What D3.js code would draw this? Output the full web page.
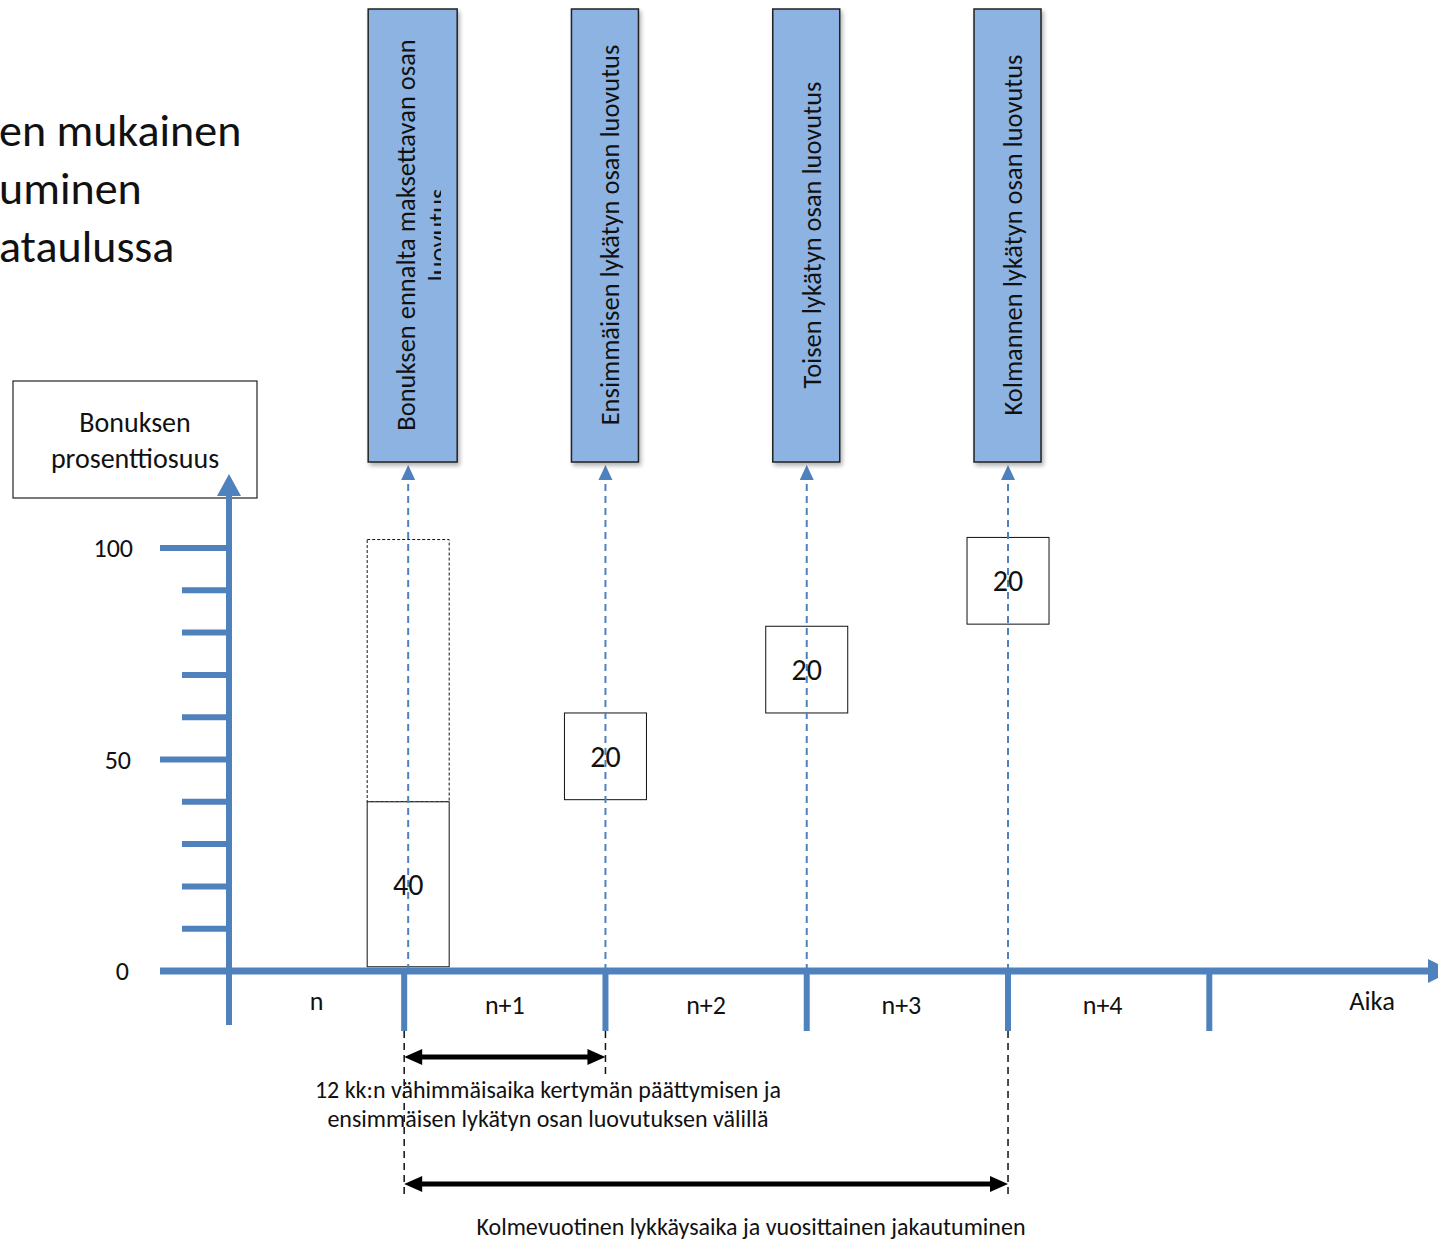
<!DOCTYPE html>
<html>
<head>
<meta charset="utf-8">
<script src="https://cdn.jsdelivr.net/npm/d3@7"></script>
<style>
    body { margin: 0; background: #fff; }
    svg { display: block; font-family: Carlito, Calibri, Lato, sans-serif; }
</style>
</head>
<body>
<div id="chart"></div>
<script>
// Data
const titleLines = ["en mukainen", "uminen", "ataulussa"];
const yAxisTitle = ["Bonuksen", "prosenttiosuus"];
const yTicks = [10, 20, 30, 40, 50, 60, 70, 80, 90, 100];
const yLabelTicks = [0, 50, 100];
const majorTicks = [50, 100];
const periodLabels = ["n", "n+1", "n+2", "n+3", "n+4"];
const periodEnds = [1, 2, 3, 4, 5];
const releaseYears = [1, 2, 3, 4];
const releaseLabels = [
    ["Bonuksen ennalta maksettavan osan", "luovutus"],
    ["Ensimmäisen lykätyn osan luovutus"],
    ["Toisen lykätyn osan luovutus"],
    ["Kolmannen lykätyn osan luovutus"]
];
const shareLabels = ["40", "20", "20", "20"];
const shareFrom = [1, 40.5, 61, 82];
const shareTo = [40, 61, 81.5, 102.5];
const fullBonus = [40, 102];          // dashed outline above the first share
const minGap = [1, 2];                // 12 months
const deferral = [1, 4];              // three years
const minGapText = ["12 kk:n vähimmäisaika kertymän päättymisen ja", "ensimmäisen lykätyn osan luovutuksen välillä"];
const deferralText = "Kolmevuotinen lykkäysaika ja vuosittainen jakautuminen";
const timeLabel = "Aika";

const W = 1438, H = 1240;
const blue = "#4f81bd";
const boxBlue = "#8db3e2";
const axisX = 229;

const svg = d3.select("#chart").append("svg")
    .attr("width", W)
    .attr("height", H);

const defs = svg.append("defs");
const shadow = defs.append("filter").attr("id", "shadow")
    .attr("x", "-20%").attr("y", "-5%").attr("width", "150%").attr("height", "110%");
shadow.append("feDropShadow")
    .attr("dx", 2).attr("dy", 3).attr("stdDeviation", 2)
    .attr("flood-color", "#000").attr("flood-opacity", 0.3);

// Scales
const x = d3.scaleLinear().domain([0, 5]).range([202.9, 1209.3]);
const y = d3.scaleLinear().domain([0, 100]).range([971, 548]);

// Title (cut off on the left like the original slide)
svg.append("g").selectAll("text")
    .data(titleLines)
    .join("text")
    .attr("x", -1)
    .attr("y", (d, i) => 146 + i * 58)
    .style("font-size", "46px")
    .attr("fill", "#111")
    .text(d => d);

// Y axis title box
svg.append("rect")
    .attr("x", 13).attr("y", 381)
    .attr("width", 244).attr("height", 117)
    .attr("fill", "#fff").attr("stroke", "#222").attr("stroke-width", 1.2);

svg.append("g").selectAll("text")
    .data(yAxisTitle)
    .join("text")
    .attr("x", 135)
    .attr("y", (d, i) => 432 + i * 36)
    .attr("text-anchor", "middle")
    .style("font-size", "28px")
    .attr("fill", "#111")
    .text(d => d);

// Dashed outline for the full bonus
svg.append("rect")
    .attr("x", x(releaseYears[0]) - 37)
    .attr("y", y(fullBonus[1]))
    .attr("width", 82)
    .attr("height", y(fullBonus[0]) - y(fullBonus[1]))
    .attr("fill", "none")
    .attr("stroke", "#111")
    .attr("stroke-width", 1)
    .attr("stroke-dasharray", "3,2");

// Share boxes
releaseYears.forEach((yr, i) => {
    svg.append("rect")
        .attr("x", x(yr) - 41 + (i === 0 ? 4 : 0))
        .attr("y", y(shareTo[i]))
        .attr("width", 82)
        .attr("height", y(shareFrom[i]) - y(shareTo[i]))
        .attr("fill", "#fff")
        .attr("stroke", "#111")
        .attr("stroke-width", 1);
});

// Blue dashed lines up to the release boxes
releaseYears.forEach(yr => {
    const cx = x(yr) + (yr === 1 ? 4 : 0);
    svg.append("line")
        .attr("x1", cx).attr("x2", cx)
        .attr("y1", y(0)).attr("y2", 480)
        .attr("stroke", blue)
        .attr("stroke-width", 2)
        .attr("stroke-dasharray", "7,5");
    svg.append("path")
        .attr("d", `M${cx},465 L${cx - 7},480 L${cx + 7},480 Z`)
        .attr("fill", blue);
});

// Share labels (drawn over the dashed lines)
releaseYears.forEach((yr, i) => {
    svg.append("text")
        .attr("x", x(yr) + (i === 0 ? 4 : 0))
        .attr("y", (y(shareFrom[i]) + y(shareTo[i])) / 2)
        .attr("dy", "0.35em")
        .attr("text-anchor", "middle")
        .style("font-size", "30px")
        .attr("fill", "#111")
        .text(shareLabels[i]);
});

// Release header boxes
const clip = defs.append("clipPath").attr("id", "clip-first");
clip.append("rect").attr("x", 368).attr("y", 9).attr("width", 73).attr("height", 453);

releaseYears.forEach((yr, i) => {
    const wide = i === 0;
    const bw = wide ? 89 : 67;
    const left = x(yr) - 34 + (wide ? -2 : 0);
    const cx = left + bw / 2;

    svg.append("rect")
        .attr("x", left).attr("y", 9)
        .attr("width", bw).attr("height", 453)
        .attr("fill", boxBlue)
        .attr("stroke", "#222")
        .attr("stroke-width", 1.5)
        .attr("filter", "url(#shadow)");

    const g = svg.append("g");
    if (wide) g.attr("clip-path", "url(#clip-first)");

    releaseLabels[i].forEach((line, j) => {
        const tx = wide ? cx - 7 + j * 32 : cx + 5;
        g.append("text")
            .attr("transform", `translate(${tx},235) rotate(-90)`)
            .attr("text-anchor", "middle")
            .attr("dy", "0.35em")
            .style("font-size", "26.5px")
            .attr("fill", "#111")
            .text(line);
    });
});

// Y axis with arrow
svg.append("line")
    .attr("x1", axisX).attr("x2", axisX)
    .attr("y1", 1025).attr("y2", 492)
    .attr("stroke", blue).attr("stroke-width", 6);
svg.append("path")
    .attr("d", `M${axisX},474 L${axisX - 12},496 L${axisX + 12},496 Z`)
    .attr("fill", blue);

// Y ticks
svg.append("g").selectAll("line")
    .data(yTicks)
    .join("line")
    .attr("x1", d => majorTicks.includes(d) ? 160 : 182)
    .attr("x2", axisX)
    .attr("y1", d => y(d)).attr("y2", d => y(d))
    .attr("stroke", blue).attr("stroke-width", 6);

svg.append("g").selectAll("text")
    .data(yLabelTicks)
    .join("text")
    .attr("x", d => 133 - (d === 0 ? 4 : d === 50 ? 2 : 0))
    .attr("y", d => y(d))
    .attr("dy", "0.35em")
    .attr("text-anchor", "end")
    .style("font-size", "26px")
    .attr("fill", "#111")
    .text(d => d);

// X axis with arrow
svg.append("line")
    .attr("x1", 160).attr("x2", 1428)
    .attr("y1", y(0)).attr("y2", y(0))
    .attr("stroke", blue).attr("stroke-width", 7);
svg.append("path")
    .attr("d", `M1452,${y(0)} L1428,${y(0) - 12} L1428,${y(0) + 12} Z`)
    .attr("fill", blue);

// Year boundary ticks
svg.append("g").selectAll("line")
    .data(periodEnds)
    .join("line")
    .attr("x1", d => x(d)).attr("x2", d => x(d))
    .attr("y1", y(0)).attr("y2", 1031)
    .attr("stroke", blue).attr("stroke-width", 6);

// Period labels
svg.append("g").selectAll("text")
    .data(periodLabels)
    .join("text")
    .attr("x", (d, i) => i === 0 ? (axisX + x(1)) / 2 : x(i + 0.5) - (i >= 3 ? 6 : 0))
    .attr("y", (d, i) => i === 0 ? 1001 : 1005)
    .attr("dy", "0.35em")
    .attr("text-anchor", "middle")
    .style("font-size", "26px")
    .attr("fill", "#111")
    .text(d => d);

svg.append("text")
    .attr("x", 1372).attr("y", 1001)
    .attr("dy", "0.35em")
    .attr("text-anchor", "middle")
    .style("font-size", "26.5px")
    .attr("fill", "#111")
    .text(timeLabel);

// Black dashed guides below the axis
const guides = [
    { yr: deferral[0], y2: 1195 },
    { yr: minGap[1], y2: 1075 },
    { yr: deferral[1], y2: 1195 }
];
guides.forEach(g => {
    svg.append("line")
        .attr("x1", x(g.yr)).attr("x2", x(g.yr))
        .attr("y1", 1031).attr("y2", g.y2)
        .attr("stroke", "#111")
        .attr("stroke-width", 1.5)
        .attr("stroke-dasharray", "7,5");
});

// Double headed arrows
function doubleArrow(x1, x2, yy) {
    svg.append("line")
        .attr("x1", x1 + 14).attr("x2", x2 - 14)
        .attr("y1", yy).attr("y2", yy)
        .attr("stroke", "#000").attr("stroke-width", 5);
    svg.append("path")
        .attr("d", `M${x1},${yy} L${x1 + 18},${yy - 8} L${x1 + 18},${yy + 8} Z`)
        .attr("fill", "#000");
    svg.append("path")
        .attr("d", `M${x2},${yy} L${x2 - 18},${yy - 8} L${x2 - 18},${yy + 8} Z`)
        .attr("fill", "#000");
}
doubleArrow(x(minGap[0]), x(minGap[1]), 1057);
doubleArrow(x(deferral[0]), x(deferral[1]), 1184);

svg.append("g").selectAll("text")
    .data(minGapText)
    .join("text")
    .attr("x", 548)
    .attr("y", (d, i) => 1090 + i * 29)
    .attr("dy", "0.35em")
    .attr("text-anchor", "middle")
    .style("font-size", "24px")
    .attr("fill", "#111")
    .text(d => d);

svg.append("text")
    .attr("x", 751).attr("y", 1227)
    .attr("dy", "0.35em")
    .attr("text-anchor", "middle")
    .style("font-size", "24px")
    .attr("fill", "#111")
    .text(deferralText);
</script>
</body>
</html>
